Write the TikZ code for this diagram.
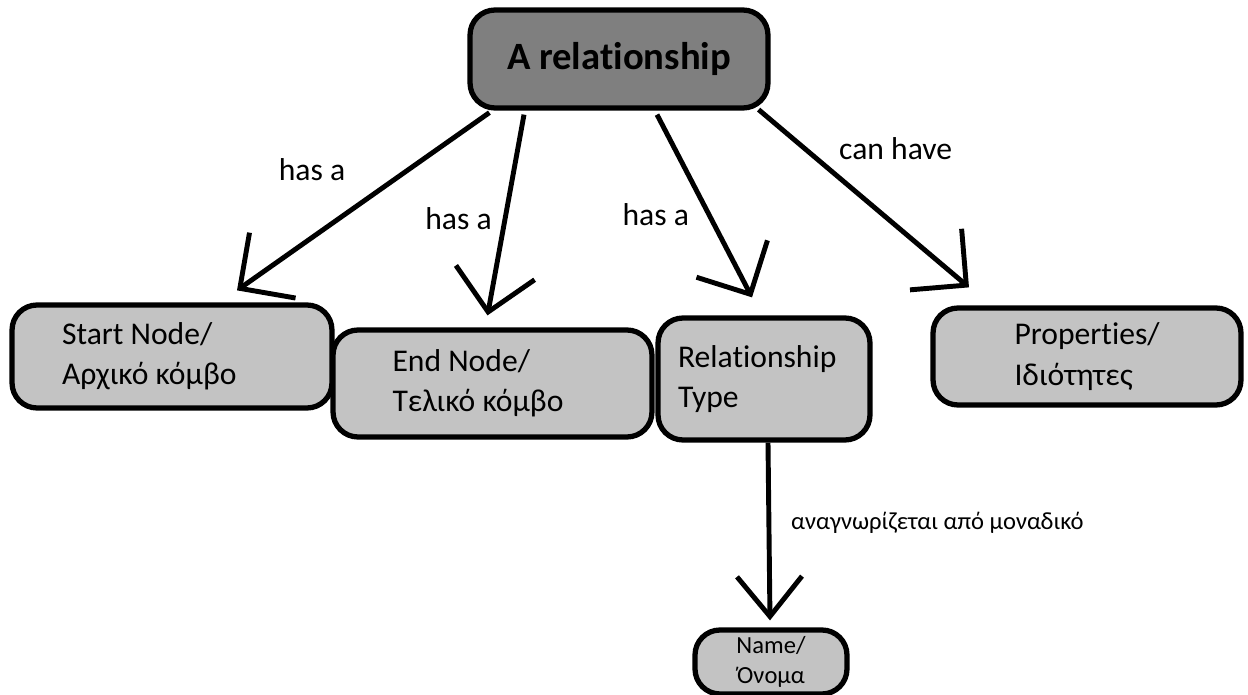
\documentclass[tikz,border=0pt]{standalone}
\usepackage{fontspec}
\setmainfont{Carlito}[RawFeature={-liga;-clig;-calt}]
\usetikzlibrary{arrows.meta, positioning, calc}
\definecolor{reldark}{HTML}{7F7F7F}
\definecolor{boxgray}{HTML}{C3C3C3}

\begin{document}
\begin{tikzpicture}[
    x=0.02cm, y=-0.02cm,
    box/.style={rectangle, draw=black, fill=boxgray, line width=3pt, rounded corners=0.5cm, align=flush left, font=\fontsize{18}{23}\selectfont},
    arrow/.style={-{Straight Barb[length=0.8cm, width=1.6cm]}, line width=2.8pt},
    lbl/.style={font=\fontsize{18}{22}\selectfont}
]
\useasboundingbox (0,0) rectangle (1248,695);
% boxes
\node[box, fill=reldark, align=center, minimum width=5.96cm, minimum height=1.96cm, font=\fontsize{22}{26}\selectfont\bfseries] (rel) at (619,59) {A relationship};
\node[box, text width=4.4cm, inner xsep=1cm, minimum height=2.06cm] (start) at (172,356.5) {Start Node/\\Αρχικό κόμβο};
\node[box, text width=4.0cm, inner xsep=1.19cm, minimum height=2.14cm] (endn) at (492.5,383.5) {End Node/\\Τελικό κόμβο};
\node[box, text width=3.44cm, inner xsep=0.4cm, minimum height=2.44cm] (rtype) at (764,379) {Relationship\\Type};
\node[box, text width=2.9cm, inner xsep=1.63cm, minimum height=1.94cm] (props) at (1087,356.5) {Properties/\\Ιδιότητες};
\node[box, align=center, minimum width=3.04cm, minimum height=1.28cm, font=\fontsize{14}{17}\selectfont] (name) at (771,662) {Name/\\Όνομα};
% connectors
\draw[arrow] ($(rel.south west)+(22,2)$) -- node[lbl, pos=0.32, left=1.1cm] {has a} ($(start.north)+(65,-12)$);
\draw[arrow] ($(rel.south)+(-95,4)$) -- node[lbl, pos=0.52, left=0.1cm] {has a} ($(endn.north)+(-5,-12)$);
\draw[arrow] ($(rel.south)+(38,4)$) -- node[lbl, pos=0.55, left=0.24cm] {has a} ($(rtype.north)+(-12,-18)$);
\draw[arrow] ($(rel.south east)+(-12,-1)$) -- node[lbl, pos=0.22, right=0.52cm] {can have} ($(props.north)+(-118,-18)$);
\draw[arrow, -{Straight Barb[length=0.8cm, width=1.3cm]}] ($(rtype.south)+(4,0)$) -- node[font=\fontsize{14}{17}\selectfont, pos=0.45, right=0.28cm] {αναγνωρίζεται από μοναδικό} ($(name.north)+(-1,-7)$);
\end{tikzpicture}
\end{document}
